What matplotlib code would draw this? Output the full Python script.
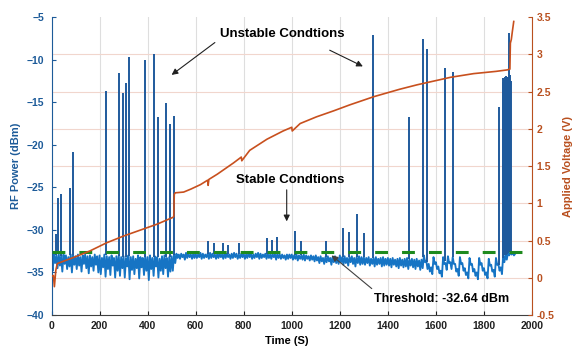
import numpy as np
import matplotlib
matplotlib.use('Agg')
import matplotlib.pyplot as plt
from matplotlib.ticker import FormatStrFormatter

plt.rcParams['font.family'] = ['Liberation Sans', 'DejaVu Sans']
plt.rcParams['font.weight'] = 'bold'

# ---------------- data ----------------
noise_step = 10  # seconds between upper-envelope samples (t = 0, 10, 20, ...)
noise_db = [
    -34.0, -32.9, -33.0, -32.8, -33.1, -32.9, -33.0, -33.2, -32.9, -33.0,
    -33.1, -32.9, -33.2, -33.0, -32.9, -33.1, -33.0, -33.2, -32.9, -33.1,
    -33.0, -33.3, -32.9, -33.1, -33.2, -33.0, -33.3, -33.1, -33.0, -33.2,
    -33.1, -33.3, -33.0, -33.2, -33.1, -33.4, -33.0, -33.2, -33.3, -33.1,
    -33.2, -33.0, -33.3, -33.1, -33.2, -33.4, -33.1, -33.0, -33.3, -33.2,
    -33.1, -32.9, -32.8, -32.9, -32.8, -32.9, -32.7, -32.8, -32.9, -32.8,
    -32.8, -32.9, -32.7, -32.8, -32.9, -32.8, -32.7, -32.8, -32.9, -32.8,
    -32.8, -32.9, -32.7, -32.8, -32.9, -32.8, -32.7, -32.8, -32.9, -32.8,
    -32.8, -32.9, -32.7, -32.8, -32.9, -32.8, -32.7, -32.8, -32.9, -32.8,
    -32.8, -32.9, -32.8, -32.9, -32.8, -32.9, -32.9, -33.0, -32.9, -32.9,
    -32.9, -33.0, -32.9, -33.0, -33.0, -32.9, -33.0, -33.1, -33.0, -33.1,
    -33.0, -33.2, -33.1, -33.3, -33.2, -33.1, -33.3, -33.2, -33.1, -33.3,
    -33.0, -33.2, -33.1, -33.3, -33.2, -33.1, -33.3, -33.2, -33.1, -33.2,
    -33.2, -33.3, -33.2, -33.4, -33.3, -33.2, -33.4, -33.3, -33.2, -33.4,
    -33.3, -33.4, -33.3, -33.5, -33.4, -33.3, -33.5, -33.4, -33.3, -33.5,
    -33.4, -33.5, -33.4, -33.6, -33.5, -33.0, -33.6, -34.0, -34.4, -33.2,
    -33.8, -34.3, -34.8, -33.2, -33.9, -33.1, -33.8, -33.2, -34.0, -34.6,
    -33.2, -33.9, -34.5, -35.0, -33.3, -34.0, -34.6, -35.0, -33.3, -33.9,
    -34.5, -35.0, -33.4, -34.1, -34.7, -33.3, -34.0, -34.4, -33.0, -32.9,
    -32.7, -32.6, -32.7, -32.8,
]
# lower-envelope samples half-way between them (t = 5, 15, 25, ...)
noise_mid_db = [
    -34.8, -33.9, -34.5, -34.2, -34.9, -34.0, -34.6, -34.3, -35.0, -34.1,
    -34.6, -34.2, -34.9, -34.0, -34.5, -35.1, -34.3, -34.8, -34.1, -35.0,
    -35.2, -34.4, -35.5, -34.6, -35.3, -34.2, -35.6, -34.8, -35.4, -34.5,
    -35.6, -34.3, -35.8, -34.7, -35.2, -34.5, -35.7, -34.4, -35.3, -34.8,
    -35.9, -34.6, -35.4, -34.3, -35.6, -34.8, -35.2, -34.5, -35.5, -34.9,
    -34.8, -33.9, -33.3, -33.4, -33.2, -33.5, -33.3, -33.2, -33.4, -33.3,
    -33.3, -33.2, -33.4, -33.3, -33.2, -33.4, -33.3, -33.2, -33.4, -33.3,
    -33.2, -33.4, -33.3, -33.2, -33.4, -33.3, -33.2, -33.4, -33.3, -33.2,
    -33.4, -33.3, -33.2, -33.4, -33.3, -33.2, -33.4, -33.3, -33.2, -33.4,
    -33.3, -33.4, -33.2, -33.5, -33.3, -33.4, -33.3, -33.5, -33.4, -33.3,
    -33.5, -33.4, -33.6, -33.4, -33.5, -33.6, -33.4, -33.6, -33.5, -33.7,
    -33.6, -33.9, -33.7, -34.0, -33.8, -33.7, -34.1, -33.8, -33.9, -34.0,
    -33.8, -34.1, -33.9, -34.2, -33.8, -34.0, -34.3, -33.9, -34.1, -34.0,
    -34.1, -33.9, -34.2, -34.0, -34.3, -34.1, -34.0, -34.3, -34.2, -34.1,
    -34.2, -34.4, -34.1, -34.3, -34.5, -34.2, -34.4, -34.3, -34.6, -34.2,
    -34.4, -34.6, -34.3, -34.7, -34.5, -33.8, -34.6, -34.9, -35.2, -34.0,
    -34.6, -35.1, -35.5, -34.0, -34.7, -33.9, -34.6, -34.0, -34.9, -35.4,
    -34.0, -34.8, -35.3, -35.7, -34.1, -34.9, -35.4, -35.8, -34.1, -34.8,
    -35.3, -35.7, -34.2, -34.9, -35.5, -34.1, -34.8, -35.2, -33.8, -33.5,
    -33.0, -32.9, -33.0,
]

spike_t = [17, 28, 39, 77, 91, 225, 282, 297, 312, 323, 388, 425, 442, 476, 492, 510,
           650, 675, 714, 735, 782, 895, 918, 940, 1012, 1040, 1141, 1213, 1238, 1273, 1299,
           1338, 1487, 1547, 1563, 1637, 1670, 1862,
           1878, 1881, 1884, 1887, 1890, 1893, 1896, 1899, 1902, 1905, 1908, 1911]
spike_db = [-30.5, -26.2, -25.8, -25.1, -20.9, -13.7, -11.6, -13.9, -12.8, -9.7, -10.1, -9.3, -16.8, -15.1, -17.6, -16.6,
            -31.3, -31.6, -31.5, -31.8, -31.5, -30.9, -31.2, -30.8, -30.1, -31.3, -31.3, -29.8, -30.2, -28.1, -30.4,
            -7.1, -16.7, -7.6, -8.8, -11.0, -11.5, -15.6,
            -12.6, -12.2, -12.4, -12.0, -12.3, -11.9, -12.1, -12.0, -12.3, -6.9, -11.8, -12.5]

volt_t = [0, 8, 12, 18, 24, 40, 90, 160, 230, 300, 370, 440, 505, 509, 511, 515, 550, 580, 620,
          650, 652, 655, 690, 757, 790, 792, 825, 897, 964, 1000, 1002, 1035, 1103, 1174, 1241,
          1341, 1449, 1522, 1619, 1660, 1757, 1850, 1897, 1906, 1908, 1910, 1914, 1918, 1924]
volt_v = [0.02, 0.03, -0.12, 0.10, 0.19, 0.21, 0.27, 0.36, 0.47, 0.56, 0.64, 0.72, 0.81, 0.82, 1.12, 1.14, 1.15, 1.19, 1.25,
          1.31, 1.24, 1.32, 1.39, 1.54, 1.62, 1.57, 1.71, 1.86, 1.97, 2.02, 1.97, 2.07, 2.16, 2.24, 2.32,
          2.43, 2.53, 2.59, 2.66, 2.69, 2.74, 2.77, 2.79, 2.80, 2.80, 3.15, 3.20, 3.30, 3.44]

threshold = -32.64

x_ticks = [0, 200, 400, 600, 800, 1000, 1200, 1400, 1600, 1800, 2000]
left_ticks = [-40, -35, -30, -25, -20, -15, -10, -5]
right_ticks = [-0.5, 0, 0.5, 1, 1.5, 2, 2.5, 3, 3.5]

# ---------------- styling ----------------
c_blue = '#1674c4'
c_spike = '#1f5a9c'
c_axis_blue = '#1d5b99'
c_orange = '#c8501e'
c_axis_orange = '#b9501f'
c_green = '#1e8a1e'

fig = plt.figure(figsize=(5.73, 3.47), dpi=100)
ax = fig.add_axes([51.5 / 573, 1 - 315 / 347, 480.5 / 573, 298 / 347])
ax2 = ax.twinx()

ax.set_xlim(0, 2000)
ax.set_ylim(-40, -5)
ax2.set_ylim(-0.5, 3.5)

# horizontal grid follows the right axis ticks
lo, hi = ax2.get_ylim()
grid_left = [-40 + (v - lo) / (hi - lo) * 35 for v in right_ticks]
ax.set_yticks(grid_left, minor=True)
ax.tick_params(axis='y', which='minor', length=0)
ax.grid(True, which='minor', axis='y', color='#f1d6cd', lw=0.8)
ax.grid(True, which='major', axis='x', color='#dedede', lw=0.8)
ax.set_axisbelow(True)

# blue trace: interleave upper and lower samples
base_t = np.arange(len(noise_db)) * noise_step
mid_t = base_t[:len(noise_mid_db)] + noise_step / 2
trace_t = np.concatenate([base_t, mid_t])
trace_db = np.concatenate([noise_db, noise_mid_db])
order = np.argsort(trace_t)
trace_t, trace_db = trace_t[order], trace_db[order]
ax.plot(trace_t, trace_db, color=c_blue, lw=1.35, zorder=2)
spike_base = np.interp(spike_t, base_t, noise_db)
ax.vlines(spike_t, spike_base, spike_db, color=c_spike, lw=1.4, zorder=2)

# threshold
ax.plot([0, 1975], [threshold, threshold], color=c_green, lw=2.2,
        dashes=(4.2, 4.6), zorder=3)

# voltage
ax2.plot(volt_t, volt_v, color=c_orange, lw=1.2, zorder=4)

# ticks
ax.set_xticks(x_ticks)
ax.set_yticks(left_ticks)
ax2.set_yticks(right_ticks)
ax2.yaxis.set_major_formatter(FormatStrFormatter('%g'))

ax.tick_params(axis='x', direction='in', length=3, labelsize=7.5, pad=4, colors='#202020')
ax.tick_params(axis='y', which='major', direction='in', length=3, labelsize=7.5, pad=5,
               colors=c_axis_blue)
ax2.tick_params(axis='y', direction='in', length=3, labelsize=7.5, pad=3.5, colors=c_axis_orange)

for a in (ax, ax2):
    a.spines['top'].set_visible(False)
ax.spines['left'].set_color(c_axis_blue)
ax.spines['right'].set_visible(False)
ax2.spines['left'].set_visible(False)
ax2.spines['right'].set_color(c_axis_orange)
ax.spines['bottom'].set_color('#404040')
ax2.spines['bottom'].set_visible(False)

ax.set_ylabel('RF Power (dBm)', color=c_axis_blue, fontsize=8, fontweight='bold')
ax.yaxis.set_label_coords(-0.063, 0.5)
ax2.set_ylabel('Applied Voltage (V)', color=c_axis_orange, fontsize=8, fontweight='bold')
ax2.yaxis.set_label_coords(1.065, 0.5)
ax.set_xlabel('Time (S)', fontsize=8, fontweight='bold')
ax.xaxis.set_label_coords(0.49, -0.072)

# annotations
arrow_k = dict(arrowstyle='-|>', color='#202020', lw=0.8, mutation_scale=9, shrinkA=0, shrinkB=0)
ax.text(962, -7.0, 'Unstable Condtions', ha='center', va='center', fontsize=9.5, fontweight='bold')
ax.annotate('', xy=(500, -11.8), xytext=(680, -8.0), arrowprops=arrow_k)
ax.annotate('', xy=(1296, -10.8), xytext=(1158, -8.9), arrowprops=arrow_k)
ax.text(992, -24.1, 'Stable Condtions', ha='center', va='center', fontsize=9.5, fontweight='bold')
ax.annotate('', xy=(979, -29.0), xytext=(979, -25.3), arrowprops=arrow_k)
ax.text(1624, -38.1, 'Threshold: -32.64 dBm', ha='center', va='center', fontsize=9, fontweight='bold')
ax.annotate('', xy=(1166, -33.0), xytext=(1333, -36.9),
            arrowprops=dict(arrowstyle='-|>', color='#404040', lw=0.8, mutation_scale=9,
                            shrinkA=0, shrinkB=0))

fig.savefig('out.png', dpi=100)
